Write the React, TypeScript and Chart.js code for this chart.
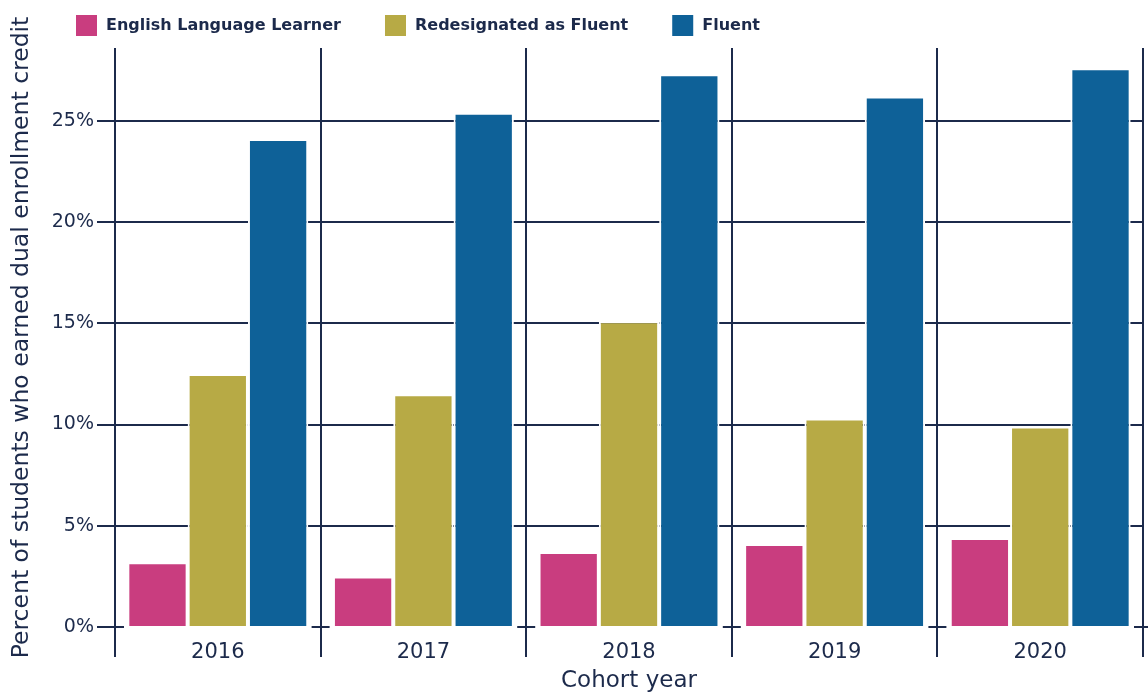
import React, { useEffect, useRef } from "react";
import { Chart, registerables } from "chart.js";

Chart.register(...registerables);

const categories = ["2016", "2017", "2018", "2019", "2020"];
const ellValues = [3.2, 2.5, 3.7, 4.1, 4.4];
const rfepValues = [12.5, 11.5, 15.1, 10.3, 9.9];
const fluentValues = [24.1, 25.4, 27.3, 26.2, 27.6];
const seriesNames = ["English Language Learner", "Redesignated as Fluent", "Fluent"];
const seriesColors = ["#c93d7f", "#b7aa45", "#0e6198"];
const yTicks = [0, 5, 10, 15, 20, 25];

const NAVY = "#1c2a4b";
const FONT = "'DejaVu Sans', sans-serif";

const decorPlugin = {
  id: "decor",
  afterDatasetsDraw(chart: any) {
    const { ctx } = chart;
    const x = chart.scales.x;
    const y = chart.scales.y;
    const y0 = y.getPixelForValue(0);
    const half = (x.getPixelForValue(1) - x.getPixelForValue(0)) / 2;
    ctx.save();
    ctx.strokeStyle = NAVY;
    ctx.lineWidth = 2;
    for (let i = 0; i <= categories.length; i++) {
      const bx = x.getPixelForValue(i) - half;
      ctx.beginPath();
      ctx.moveTo(bx - 9, y0);
      ctx.lineTo(bx + 9, y0);
      ctx.stroke();
    }
    ctx.restore();
  },
  afterDraw(chart: any) {
    const { ctx } = chart;
    ctx.save();
    ctx.font = `bold 16px ${FONT}`;
    ctx.textBaseline = "middle";
    ctx.textAlign = "left";
    let cx = 76;
    const cy = 25;
    chart.data.datasets.forEach((ds: any) => {
      ctx.fillStyle = ds.backgroundColor;
      ctx.fillRect(cx, cy - 10, 21, 21);
      ctx.fillStyle = NAVY;
      ctx.fillText(ds.label, cx + 30, cy + 1);
      cx += 30 + ctx.measureText(ds.label).width + 44;
    });
    ctx.restore();
  },
};

export default function App() {
  const canvasRef = useRef<HTMLCanvasElement | null>(null);

  useEffect(() => {
    const canvas = canvasRef.current;
    if (!canvas) return;
    const values = [ellValues, rfepValues, fluentValues];
    const chart = new Chart(canvas, {
      type: "bar",
      data: {
        labels: categories,
        datasets: values.map((v, i) => ({
          label: seriesNames[i],
          data: v,
          backgroundColor: seriesColors[i],
          borderColor: "#ffffff",
          borderWidth: 2,
          barPercentage: 1,
          categoryPercentage: 0.88,
        })),
      },
      options: {
        animation: false,
        responsive: true,
        maintainAspectRatio: false,
        layout: { padding: { top: 48, right: 5, left: 4, bottom: 0 } },
        plugins: {
          legend: { display: false },
          tooltip: { enabled: false },
        },
        scales: {
          x: {
            offset: true,
            grid: {
              offset: true,
              color: NAVY,
              lineWidth: 2,
              tickLength: 30,
              drawOnChartArea: true,
            },
            border: { display: false },
            ticks: {
              color: NAVY,
              font: { family: FONT, size: 21 },
              padding: -17,
            },
            title: {
              display: true,
              text: "Cohort year",
              color: NAVY,
              font: { family: FONT, size: 23 },
              padding: { top: 0, bottom: 0 },
            },
            afterFit(scale: any) {
              scale.height = 68;
            },
          },
          y: {
            min: 0,
            max: 28.6,
            afterBuildTicks(scale: any) {
              scale.ticks = yTicks.map((v) => ({ value: v }));
            },
            grid: {
              color: (c: any) => (c.tick && c.tick.value === 0 ? "rgba(0,0,0,0)" : NAVY),
              tickColor: NAVY,
              lineWidth: 2,
              tickLength: 18,
            },
            border: { display: false },
            ticks: {
              color: NAVY,
              font: { family: FONT, size: 19 },
              padding: 3,
              callback: (v: any) => `${v}%`,
            },
            title: {
              display: true,
              text: "Percent of students who earned dual enrollment credit",
              color: NAVY,
              font: { family: FONT, size: 23.5 },
              padding: { top: 4, bottom: 4 },
            },
            afterFit(scale: any) {
              scale.width = 111;
            },
          },
        },
      },
      plugins: [decorPlugin],
    });
    return () => chart.destroy();
  }, []);

  return (
    <div style={{ position: "absolute", left: 0, top: 0, width: 1148, height: 695, background: "#fff" }}>
      <canvas ref={canvasRef} />
    </div>
  );
}
